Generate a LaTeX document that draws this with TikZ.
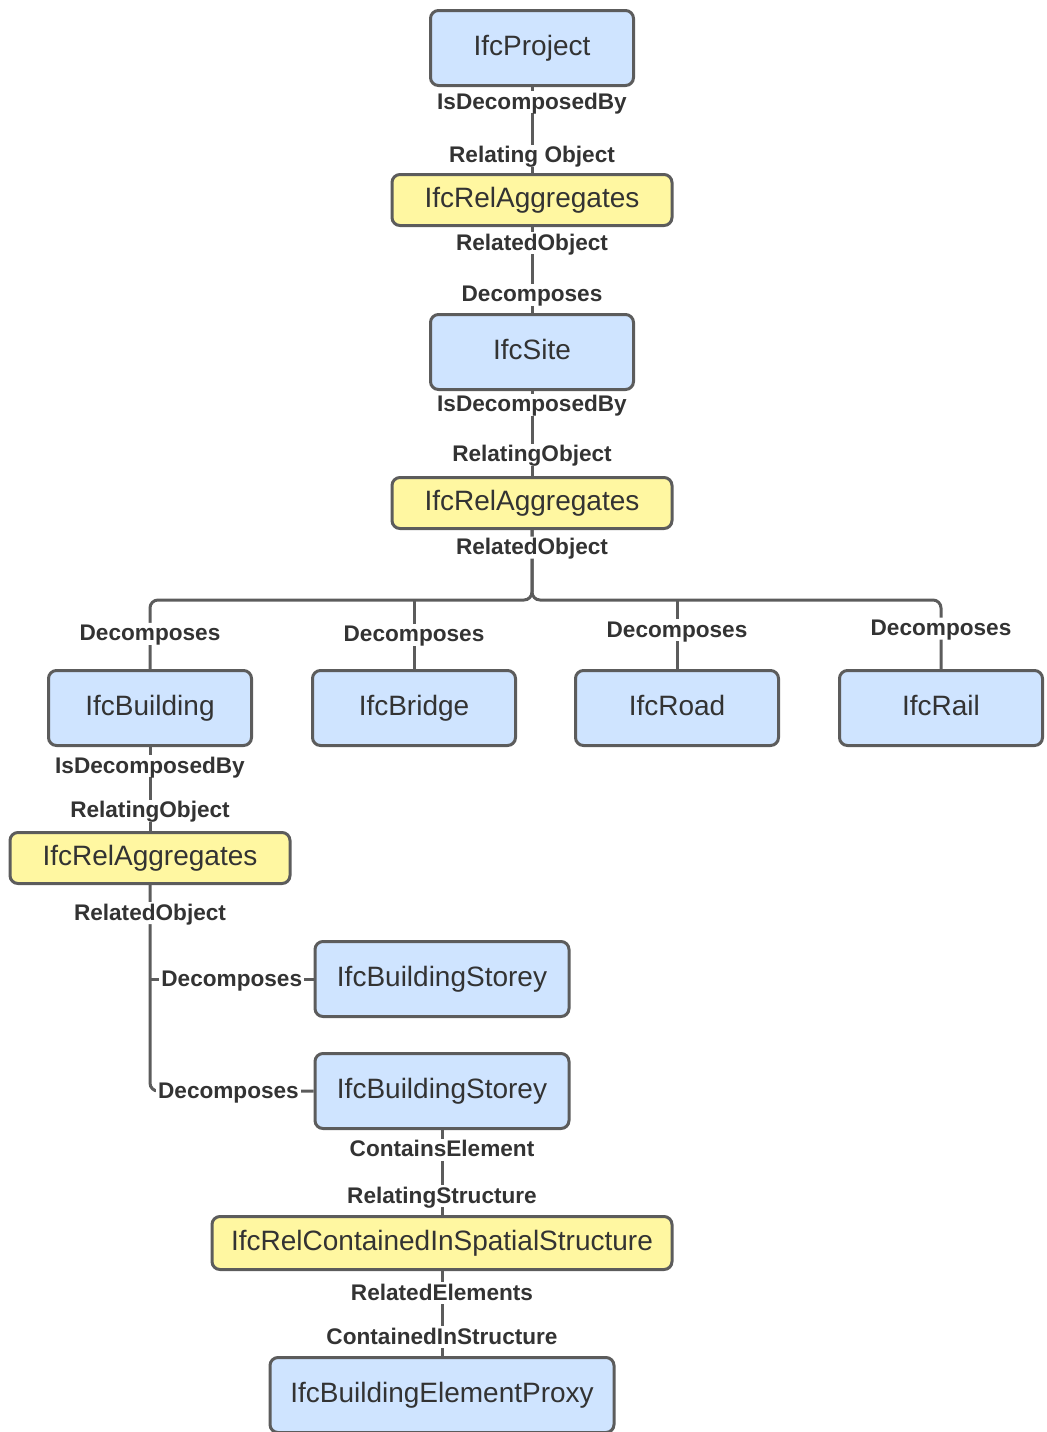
\documentclass[tikz,border=0pt]{standalone}
\usepackage{fontspec}
\setmainfont{Liberation Sans}
\usetikzlibrary{positioning,calc}
\definecolor{ifcblue}{HTML}{CFE4FF}
\definecolor{ifcyellow}{HTML}{FFF7A1}
\definecolor{ifcline}{HTML}{5C5C5C}
\definecolor{ifctext}{HTML}{333333}

\begin{document}
\begin{tikzpicture}[x=0.5pt,y=-0.5pt,
  every node/.style={font=\fontsize{14}{16}\selectfont,text=ifctext},
  entity/.style={draw=ifcline,line width=1.5pt,rounded corners=4pt,fill=ifcblue,
    minimum width=101.5pt,minimum height=37.5pt,inner sep=0pt,text height=0.8em,text depth=0.1em},
  rel/.style={entity,fill=ifcyellow,minimum width=140pt,minimum height=25.5pt},
  conn/.style={draw=ifcline,line width=1.5pt},
  lbl/.style={font=\bfseries\fontsize{11.3}{13}\selectfont,fill=white,inner sep=1pt,
    text height=0.8em,text depth=0.1em}]
\useasboundingbox (0,0) rectangle (1046,1432);

% spatial structure
\node[entity] (proj) at (532,48) {IfcProject};
\node[rel] (agg1) at (532,200) {IfcRelAggregates};
\node[entity] (site) at (532,352) {IfcSite};
\node[rel] (agg2) at (532,503) {IfcRelAggregates};
\node[entity] (bld) at (150,708) {IfcBuilding};
\node[entity] (bri) at (414,708) {IfcBridge};
\node[entity] (road) at (677,708) {IfcRoad};
\node[entity] (rail) at (941,708) {IfcRail};
\node[rel] (agg3) at (150,858) {IfcRelAggregates};
\node[entity,minimum width=127pt] (sto1) at (442,979) {IfcBuildingStorey};
\node[entity,minimum width=127pt] (sto2) at (442,1091) {IfcBuildingStorey};
\node[rel,minimum width=230pt,minimum height=26.5pt] (cont) at (442,1243) {IfcRelContainedInSpatialStructure};
\node[entity,minimum width=172pt] (proxy) at (442,1395) {IfcBuildingElementProxy};
\coordinate (bus) at (532,600);

% relations
\draw[conn] (proj) -- node[lbl,pos=.18]{IsDecomposedBy} node[lbl,pos=.8]{Relating Object} (agg1);
\draw[conn] (agg1) -- node[lbl,pos=.19]{RelatedObject} node[lbl,pos=.79]{Decomposes} (site);
\draw[conn] (site) -- node[lbl,pos=.16]{IsDecomposedBy} node[lbl,pos=.75]{RelatingObject} (agg2);
\draw[conn,rounded corners=4pt] (agg2.south) -- (agg2.south |- bus) -| node[lbl,pos=.707]{Decomposes} (rail.north);
\draw[conn,rounded corners=4pt] (agg2.south) -- node[lbl,pos=.25]{RelatedObject} (agg2.south |- bus) -| node[lbl,pos=.745]{Decomposes} (bld.north);
\draw[conn] (bri.north |- bus) -- node[lbl,pos=.5]{Decomposes} (bri.north);
\draw[conn] (road.north |- bus) -- node[lbl,pos=.44]{Decomposes} (road.north);
\draw[conn] (bld) -- node[lbl,pos=.23]{IsDecomposedBy} node[lbl,pos=.76]{RelatingObject} (agg3);
\draw[conn,rounded corners=4pt] (agg3.south) |- node[lbl,pos=.068]{RelatedObject} node[lbl,pos=.74]{Decomposes} (sto2.west);
\draw[conn] (agg3.south |- sto1.west) -- node[lbl,pos=.5]{Decomposes} (sto1.west);
\draw[conn] (sto2) -- node[lbl,pos=.23]{ContainsElement} node[lbl,pos=.78]{RelatingStructure} (cont);
\draw[conn] (cont) -- node[lbl,pos=.26]{RelatedElements} node[lbl,pos=.78]{ContainedInStructure} (proxy);
\end{tikzpicture}
\end{document}
